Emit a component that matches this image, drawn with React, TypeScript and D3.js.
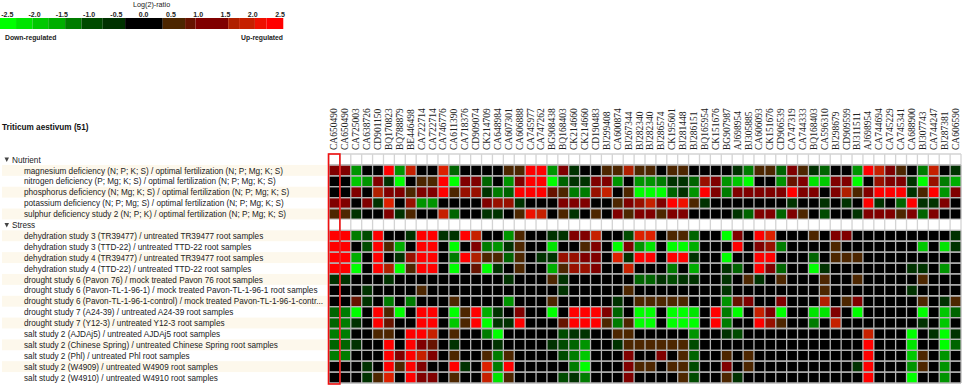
import React from 'react'
import * as d3 from 'd3'

const probes = [
  'CA650490', 'CA650490', 'CA725003', 'CA638726', 'CD901150', 'BQ170823', 'BQ788879', 'BE446498', 'CA722714', 'CA722714',
  'CA746776', 'CA611390', 'CA718376', 'CD909074', 'CK214709', 'CA648984', 'CA607301', 'CA606888', 'CA745977', 'CA747262',
  'BG908438', 'BQ168403', 'CK214660', 'CK214660', 'CD190483', 'BJ299408', 'CA600874', 'BJ267344', 'BJ282340', 'BJ282340',
  'BJ286574', 'CK195601', 'BJ281448', 'BJ286151', 'BQ165954', 'CK151676', 'BG907987', 'AJ698954', 'BJ305885', 'CA606093',
  'CK151676', 'CD906539', 'CA747319', 'CA744333', 'BQ168403', 'CA596310', 'BJ298679', 'CD909599', 'BJ311511', 'AJ698954',
  'CA744694', 'CA745229', 'CA745341', 'CA688900', 'BJ307743', 'CA744247', 'BJ287381', 'CA606590'
]

// Log2 ratios
const magnesium = [
  1, 1, -1.5, 0, 0, 2.5, -1.5, 1.75, 0, 0,
  2, -1, 0, 0, 0, 0, .5, .5, 2.5, 2.5,
  -1.5, 1, -.5, 0, 0, .5, .5, 1.5, .5, .5,
  0, .5, .5, 0, 0, 0, 0, -.5, -1.25, .5,
  .5, -1, 1, .5, -.5, -1, 0, 0, -1.5, 2.5,
  1.75, 1, .5, 0, -1.25, 1.75, 0, -.5
]
const nitrogen = [
  0, 0, -2, -1.5, 1, -.5, -2.5, 0, .5, .5,
  2.5, -2.5, 1, 1, -1, 0, -1.5, 1, 2.5, 2.5,
  -2.5, -1, -.5, -.5, 1, 1, -1.5, 0, -1.5, -1.5,
  -1.25, -.5, -.5, -1, 1.25, 1, -1.5, -2, -2.5, 0,
  0, -1.5, .75, 1, -2.25, -2, 1, 1, -2.5, 0,
  1.25, 1, 1, -.5, -2.5, 1.25, -1.25, -1.75
]
const phosphorus = [
  0, 0, 1, 0, 1.5, 1, 1, .5, 1, 1,
  2.5, .5, 1.25, 1.25, -.5, -1.25, -1, 2.5, 2.5, 2.5,
  .75, .5, -1.25, -1.25, 1.25, 1.75, 0, .5, -2.5, -2.5,
  -2.5, -1, -.5, -1.5, 2.5, 1, -1.25, 1, 1, 1,
  1, 1, 2.5, 1, 1, 0, 1, 1.5, .5, 1,
  2.5, 2.5, 2.5, -.5, .5, 2.5, -1.5, 1
]
const potassium = [
  1, 1, 0, 1, -.5, 2, 0, 1.25, -1.5, -1.5,
  0, 0, 0, 0, 1, 1.25, 1.25, -.5, 0, 0,
  0, 1, 1, 1, 0, 0, .5, 1, 1.25, 1.75,
  1, 2.5, 2.25, .5, -.5, 0, 0, 0, 0, 0,
  0, 0, -.5, 0, 0, -.5, 0, -.5, 0, 2.5,
  -.5, 0, -1, 2.5, -.5, -.5, 1, 0
]
const sulphur = [
  .5, .5, -.5, 0, 0, 1, -.5, .5, 0, 0,
  1.75, -1, 0, 0, -.5, -.5, 0, .5, 2.25, 1.75,
  0, .5, -.5, 0, .5, 0, 1, .5, 1, 1,
  .5, 1, 1, 0, 0, 0, 0, -.5, -1, 1,
  1, -1, 1, .5, 0, -.75, 0, 0, -.5, 1,
  1, 1, .5, 1, -1, 1, 0, 0
]
const dehydration3TR = [
  2.5, 2.5, -1.25, -.75, 2.5, 0, 0, -.5, 2.5, 2.5,
  -.5, -.5, 2.5, 1.75, 0, 0, -1.5, .5, 0, 0,
  -.5, -.5, 1, 1, 1.75, 0, 0, -.75, 2, 2,
  0, .5, .5, -1, 0, 0, -2.5, 1, 0, 2.5,
  2, 0, 0, 0, .5, 0, 1, 1, 0, 0,
  0, 0, 0, 0, 0, 0, 0, -.5
]
const dehydration3TTD = [
  2.5, 2.5, 0, -.75, 2.5, .5, -1.75, 0, 2.5, 2.5,
  0, -2.5, 0, 1, -1.25, -1.5, -.5, .5, 0, 0,
  -2.25, 0, 0, .5, 1, 0, -2.5, 1, -1.5, -2.25,
  0, -2.5, -2.5, -1.75, 0, 0, 0, 2.5, 0, 1,
  1.25, -1.25, 0, 0, 0, 0, .5, 0, 0, 0,
  0, 0, 0, 0, -2, 0, -2.25, -.5
]
const dehydration4TR = [
  2.5, 2.5, -1.75, 0, 2.5, 0, -.5, 1.25, 2.5, 2.5,
  0, -1.25, 2.5, 1.5, .5, .5, -1, .5, 0, -.5,
  -.5, 1.25, 1.25, 1, 1, 0, 2, -.5, 2.5, 2.5,
  0, 2.5, 2.5, -.5, 0, 0, -2.5, 0, 0, 2.5,
  2.5, 0, 0, 0, -1, 0, .5, .5, .5, 0,
  0, 0, 0, 0, 0, 0, 0, 0
]
const dehydration4TTD = [
  2.5, 2.5, -2.5, 0, 2.5, 1.5, -2.5, .5, 2.5, 2.5,
  0, -2.5, 0, .75, -2.5, -.5, 0, .5, 0, 0,
  -1.75, .5, 1.25, 1.25, 1, 0, 0, 1.75, 0, 0,
  0, -1.25, 0, -1.75, 0, 0, -.5, -1, 0, 2.5,
  1, -1, 0, 0, -2.5, -.5, 0, 0, 0, 0,
  0, 0, 0, -.5, -.5, 0, -1.5, 0
]
const drought6Pavon76 = [
  -.5, -.5, 0, 0, 0, -.5, 0, 0, 0, 0,
  0, 0, 0, 0, 0, 0, -.5, 0, 0, 0,
  .5, -.5, 0, 0, 0, 0, 0, 0, -1, -1,
  -.5, -.75, -.5, -.5, 0, 0, -.5, 0, .5, -.5,
  0, .5, 0, 0, 0, .5, 0, 0, .5, 0,
  0, 0, 0, 0, .5, 0, 0, 0
]
const drought6PavonTL = [
  0, 0, 0, -.5, 0, 0, 0, 0, .5, 0,
  0, 0, 0, 0, 0, 0, 0, 0, 0, 0,
  0, -.5, 0, 0, 0, 0, 0, .5, 0, 0,
  0, 0, 0, 0, 0, 0, -.5, 0, 0, 0,
  0, 0, 0, 0, 0, .5, 0, 0, 0, 0,
  0, 0, 0, -.5, 0, 0, 0, 0
]
const drought6Control = [
  0, 0, .75, -.5, 0, -1.25, 0, -1.25, 0, 0,
  0, .5, 0, 0, 0, 0, -1.5, 0, 0, 0,
  .5, 0, 0, 0, 0, 0, -.5, 0, .5, .5,
  .5, .5, .5, 0, 0, 0, -1.5, .75, 1, 0,
  0, 1, 0, 0, 0, 1.5, 0, .5, 1, 0,
  0, 0, 0, 0, .5, 0, -.5, .5
]
const drought7A24 = [
  -1, -1.25, -2.5, 0, 2.5, .5, -2.5, 0, 2.5, 2.5,
  0, -2.5, .5, 2.5, -1.75, -.5, 0, 1, 0, 0,
  -2.5, 0, 2.5, 2.5, 2.5, 1, -1, 0, -2.5, -2.5,
  0, -2.5, -2.5, -2.25, 0, 2.5, -1.25, -2.5, 0, 1.75,
  1, -2.5, 0, 0, -2.25, -2.25, 1, 0, -2.5, 0,
  0, 0, 0, 0, -2.5, 0, -2, -1
]
const drought7Y12 = [
  -1, -1.25, -.5, 0, 2.5, .75, 0, 0, 2.5, 2.5,
  0, -2, .5, 2.5, -2.5, -.5, -.5, 2.5, 0, 0,
  0, .75, 2.5, 2.5, 2.5, .5, -1.25, .5, -2.5, -2.5,
  0, -2.5, -2.5, -2.5, 0, 2.5, -1.25, 0, 0, 2.5,
  1.25, .5, 0, 0, -1.25, 0, 1.75, 0, 0, 0,
  0, 0, 0, 0, -.5, 0, -2, 0
]
const saltAJDAj5 = [
  -1.25, -1.25, 0, 0, .5, .5, 0, 2.5, 2.5, 1.75,
  0, .5, 0, 0, -1.25, -2.5, 0, 0, 0, 0,
  0, -.75, -.5, -.5, 0, 0, .5, .5, 0, 0,
  0, 0, 0, -1.5, 0, 0, -.5, -.75, 0, 0,
  0, 0, 0, 0, 0, 0, 0, 0, 0, 1.75,
  0, 0, 0, -2.5, 0, -.5, -2.5, -.5
]
const saltChinese = [
  -1, -1, -.5, 0, 0, 2.5, 0, 2.5, 1, .75,
  0, -.5, 0, 0, 0, -.5, 0, 0, 0, 0,
  -.5, -.75, -1, -1.5, 0, 0, -.5, .5, .5, .5,
  .5, .5, .5, -.75, 0, 0, 0, 0, 0, 0,
  0, 0, 0, 0, 0, 0, 0, 0, 0, 2.5,
  0, 0, 0, -2.25, 0, 0, -2.5, -1
]
const saltPhl = [
  -1.25, -1.25, 0, 0, 0, 2.5, 1, 2.5, 1.75, 1,
  0, .5, 0, 0, .5, -1.25, .5, 0, 0, 0,
  0, -.75, -1.25, -2, 0, 0, 0, 1, 0, 0,
  1, 0, .5, -1, 0, 0, .5, 0, .5, 0,
  0, 0, 0, 0, 0, 0, 0, 0, 0, 2.5,
  0, 0, 0, -2, .5, 0, -1.5, 0
]
const saltW4909 = [
  0, 0, 0, -.5, 0, 2.5, .5, 2.5, 1, 0,
  0, 2.5, -.5, 0, 2, -1.25, 2.5, 0, 0, 0,
  0, 0, -1.25, -2.5, 0, 0, 0, 1, .5, .5,
  0, .5, .5, -.75, 0, 0, 1, 0, .5, 0,
  0, 0, 0, 0, 0, 0, 0, 0, -.5, 2.5,
  0, 0, 0, -1.5, .5, 0, -1.5, 0
]
const saltW4910 = [
  0, 0, 0, -.5, .5, 2, 0, 2.5, 1, 1,
  0, .5, 0, 0, 1.75, -2.25, .5, 0, 0, 0,
  0, -.75, -.5, -1.25, 0, 0, 0, 1, 0, 0,
  0, 0, .5, -.75, 0, 0, .5, -.5, 0, 0,
  0, 0, 0, 0, 0, 0, 0, 0, 0, 2.5,
  0, 0, 0, -2.5, 0, 0, -1.5, 0
]

const rows: { label: string; values?: number[] }[] = [
  { label: 'Nutrient' },
  { label: 'magnesium deficiency (N; P; K; S) / optimal fertilization (N; P; Mg; K; S)', values: magnesium },
  { label: 'nitrogen deficiency (P; Mg; K; S) / optimal fertilization (N; P; Mg; K; S)', values: nitrogen },
  { label: 'phosphorus deficiency (N; Mg; K; S) / optimal fertilization (N; P; Mg; K; S)', values: phosphorus },
  { label: 'potassium deficiency (N; P; Mg; S) / optimal fertilization (N; P; Mg; K; S)', values: potassium },
  { label: 'sulphur deficiency study 2 (N; P; K) / optimal fertilization (N; P; Mg; K; S)', values: sulphur },
  { label: 'Stress' },
  { label: 'dehydration study 3 (TR39477) / untreated TR39477 root samples', values: dehydration3TR },
  { label: 'dehydration study 3 (TTD-22) / untreated TTD-22 root samples', values: dehydration3TTD },
  { label: 'dehydration study 4 (TR39477) / untreated TR39477 root samples', values: dehydration4TR },
  { label: 'dehydration study 4 (TTD-22) / untreated TTD-22 root samples', values: dehydration4TTD },
  { label: 'drought study 6 (Pavon 76) / mock treated Pavon 76 root samples', values: drought6Pavon76 },
  { label: 'drought study 6 (Pavon-TL-1-96-1) / mock treated Pavon-TL-1-96-1 root samples', values: drought6PavonTL },
  { label: 'drought study 6 (Pavon-TL-1-96-1-control) / mock treated Pavon-TL-1-96-1-contr...', values: drought6Control },
  { label: 'drought study 7 (A24-39) / untreated A24-39 root samples', values: drought7A24 },
  { label: 'drought study 7 (Y12-3) / untreated Y12-3 root samples', values: drought7Y12 },
  { label: 'salt study 2 (AJDAj5) / untreated AJDAj5 root samples', values: saltAJDAj5 },
  { label: 'salt study 2 (Chinese Spring) / untreated Chinese Spring root samples', values: saltChinese },
  { label: 'salt study 2 (Phl) / untreated Phl root samples', values: saltPhl },
  { label: 'salt study 2 (W4909) / untreated W4909 root samples', values: saltW4909 },
  { label: 'salt study 2 (W4910) / untreated W4910 root samples', values: saltW4910 }
]

const legendTicks = [-2.5, -2, -1.5, -1, -.5, 0, .5, 1, 1.5, 2, 2.5]
const legendEdges = [-2.64, -2.34, -2.04, -1.75, -1.44, -1.14, -.75, -.34, .35, .76, .95, 1.55, 1.75, 2.04, 2.25, 2.56]
const legendValues = [-2.5, -2.25, -2, -1.75, -1.25, -.75, -.5, 0, .5, .75, 1, 1.5, 1.75, 2.25, 2.5]

const color = d3.scaleLinear<string>()
  .domain(legendTicks)
  .range(['#00ff00', '#00c800', '#009400', '#006400', '#003200', '#000000', '#4d2600', '#800000', '#b02000', '#dc2000', '#ff0000'])

const x = d3.scaleBand<number>().domain(d3.range(probes.length)).range([329, 961])
const y = d3.scaleBand<number>().domain(d3.range(rows.length)).range([154, 383])
const legendX = d3.scaleLinear().domain([-2.5, 2.5]).range([7.3, 280])

const sans = '"Liberation Sans", Arial, sans-serif'
const grey = '#b4b4b4'

export default function App() {
  const textRows = rows.map((r, i) => ({ ...r, i }))
  return (
    <svg width={964} height={389} style={{ position: 'absolute', left: 0, top: 0, background: '#fff' }}>
      {/* legend */}
      <g fontFamily={sans} fontSize={7.2} fill="#222">
        <text x={133} y={7}>Log(2)-ratio</text>
        {legendTicks.map(t => (
          <text key={t} x={legendX(t)} y={17} textAnchor="middle" fontWeight="bold" fontSize={7}>{t.toFixed(1)}</text>
        ))}
        {legendValues.map((v, i) => (
          <rect key={i} x={legendX(legendEdges[i])} y={18} height={11}
            width={legendX(legendEdges[i + 1]) - legendX(legendEdges[i])} fill={color(v)} />
        ))}
        <text x={5} y={40} fontWeight="bold" fontSize={6.8}>Down-regulated</text>
        <text x={283} y={40} textAnchor="end" fontWeight="bold" fontSize={6.8}>Up-regulated</text>
      </g>

      <text x={2} y={130} fontFamily={sans} fontSize={8.2} fontWeight="bold" fill="#111">Triticum aestivum (51)</text>

      {/* probe names */}
      <g fontFamily='"Liberation Serif", "Times New Roman", serif' fontSize={9.5} fill="#222">
        {probes.map((p, i) => (
          <text key={i} transform={`translate(${x(i)! + x.bandwidth() / 2 + 3},150) rotate(-90)`}>{p}</text>
        ))}
      </g>

      {/* row labels */}
      <g fontFamily={sans} fontSize={8.2} fill="#222">
        {textRows.map(r => {
          const yy = y(r.i)!
          const striped = r.values && r.i % 2 === 1
          return (
            <g key={r.i}>
              {striped && <rect x={2} y={yy} width={325} height={y.bandwidth()} fill="#fdf8ec" />}
              {r.values ? (
                <text x={24} y={yy + 8.6}>{r.label}</text>
              ) : (
                <>
                  <path d={`M4.5,${yy + 3.5}h4.5l-2.25,4.5z`} fill="#444" />
                  <text x={12} y={yy + 8.6}>{r.label}</text>
                </>
              )}
            </g>
          )
        })}
      </g>

      {/* heat map cells, fills first so the grid stays on top */}
      <g shapeRendering="crispEdges">
        {textRows.map(r =>
          r.values && probes.map((_, c) => (
            <rect key={`${r.i}-${c}`} x={x(c)} y={y(r.i)} width={x.bandwidth()} height={y.bandwidth()}
              fill={color(r.values![c])} />
          ))
        )}
      </g>
      <g>
        {textRows.map(r => {
          const top = y(r.i)!
          const bottom = top + y.bandwidth()
          const left = x(0)!
          const right = x(probes.length - 1)! + x.bandwidth()
          const verticals = d3.range(probes.length + 1).map(c => `M${left + c * x.step()},${top}V${bottom}`).join('')
          return (
            <path key={r.i} d={`M${left},${top}H${right}M${left},${bottom}H${right}${verticals}`}
              fill="none" strokeWidth={1.3} stroke={r.values ? grey : '#d4d4d4'} />
          )
        })}
      </g>

      {/* selected column */}
      <rect x={x(0)! - 0.5} y={154} width={x.bandwidth() + 0.5} height={230} fill="none" stroke="#f01010" strokeWidth={1.6} />
    </svg>
  )
}
